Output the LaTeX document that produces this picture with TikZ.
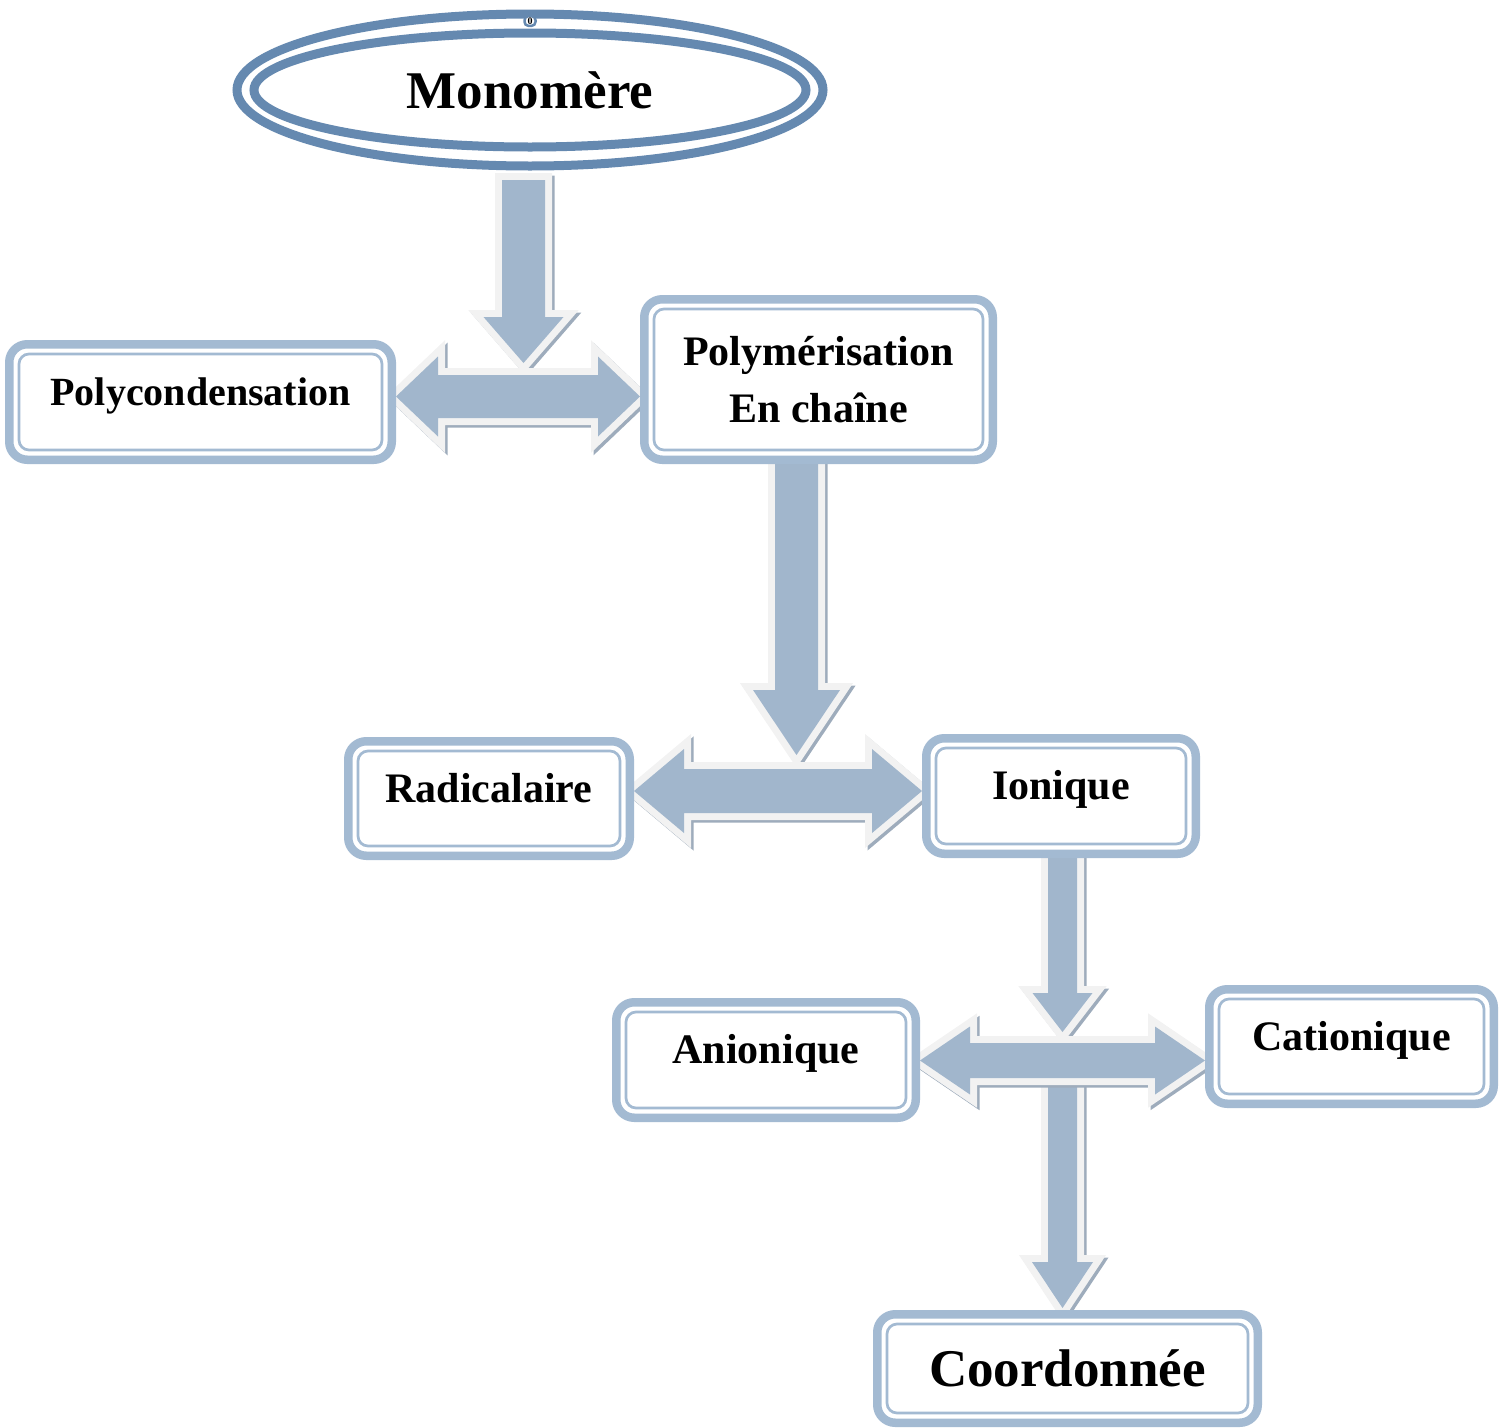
\documentclass[tikz,border=0pt]{standalone}
\usepackage{fontspec}
\setmainfont{Liberation Serif}
\usetikzlibrary{calc,shapes.geometric,backgrounds}
\definecolor{framesteel}{RGB}{101,137,176}
\definecolor{framelight}{RGB}{163,186,210}
\definecolor{flowfill}{RGB}{161,182,204}
\definecolor{flowrim}{RGB}{242,242,242}
\definecolor{flowshade}{RGB}{158,172,188}
% block arrow down: #1 top, #2 tip, #3 half shaft, #4 half head, #5 head length
\newcommand{\blockdown}[5]{%
  \path[flowarrow] let \p1=(#1), \p2=(#2) in
    (\x1-#3,\y1) -- (\x1+#3,\y1) -- (\x1+#3,\y2+#5) -- (\x1+#4,\y2+#5)
    -- (\x2,\y2) -- (\x1-#4,\y2+#5) -- (\x1-#3,\y2+#5) -- cycle;}
% block arrow both ways: #1 left tip, #2 right tip
\newcommand{\blocktwoway}[5]{%
  \path[flowarrow] let \p1=(#1), \p2=(#2) in
    (\x1,\y1) -- (\x1+#5,\y1+#4) -- (\x1+#5,\y1+#3) -- (\x2-#5,\y1+#3)
    -- (\x2-#5,\y1+#4) -- (\x2,\y1) -- (\x2-#5,\y1-#4) -- (\x2-#5,\y1-#3)
    -- (\x1+#5,\y1-#3) -- (\x1+#5,\y1-#4) -- cycle;}
\begin{document}
\begin{tikzpicture}[x=1pt,y=-1pt,
  stage/.style={draw=framelight,line width=8.5pt,fill=white,rounded corners=18pt,inner sep=0pt,align=center,font=\fontsize{42}{57}\selectfont\bfseries},
  oneline/.style={text height=29.4pt,text depth=21.8pt},
  innerframe/.style={draw=framelight,line width=2.7pt,rounded corners=10pt},
  flowarrow/.style={fill=flowfill,line join=miter,
    preaction={draw=flowshade,fill=flowshade,line width=14pt,transform canvas={shift={(2.5pt,-2.5pt)}}},
    preaction={draw=flowrim,line width=14pt}}]
\useasboundingbox (0,0) rectangle (1507,1427);
% monomer
\node[ellipse,draw=framesteel,line width=9pt,minimum width=586pt,minimum height=152pt,inner sep=0pt,font=\fontsize{53}{60}\selectfont\bfseries] (mono) at (530,90) {Monomère};
\draw[framesteel,line width=9pt] (mono.center) ellipse [x radius=276pt,y radius=57pt];
\node[draw=framesteel,line width=2.5pt,fill=white,rounded corners=4pt,inner xsep=3pt,inner ysep=1.5pt,font=\fontsize{10}{10}\selectfont\bfseries] (tag) at (530,21) {0};
% stages
\node[stage,oneline,minimum width=382.5pt,minimum height=115.5pt,font=\fontsize{40}{57}\selectfont\bfseries] (poly) at (200.5,402) {Polycondensation};
\node[stage,minimum width=348.5pt,minimum height=160.5pt] (chain) at (818.5,379.5) {Polymérisation\\En chaîne};
\node[stage,oneline,minimum width=281.5pt,minimum height=114.5pt] (radical) at (489,798.5) {Radicalaire};
\node[stage,oneline,minimum width=269.5pt,minimum height=115.5pt] (ionic) at (1061,796) {Ionique};
\node[stage,oneline,minimum width=299.5pt,minimum height=115.5pt] (anionic) at (766,1060) {Anionique};
\node[stage,oneline,minimum width=284.5pt,minimum height=114.5pt] (cationic) at (1351.5,1046.5) {Cationique};
\node[stage,minimum width=380.5pt,minimum height=108.5pt,font=\fontsize{53}{60}\selectfont\bfseries] (coord) at (1067.5,1368.5) {Coordonnée};
\foreach \n in {poly,chain,radical,ionic,anionic,cationic,coord}
  \draw[innerframe] ([shift={(14pt,14pt)}]\n.south west) rectangle ([shift={(-14pt,-14pt)}]\n.north east);
% block arrows
\coordinate (h1) at (518.5,396.5);
\coordinate (h2) at (778.5,791);
\coordinate (h3) at (1062.5,1060.5);
\begin{scope}[on background layer]
\blockdown{523.5,180}{523.5,363}{21.5pt}{40pt}{46pt}
\blocktwoway{poly.east |- h1}{chain.west |- h1}{21.5pt}{40pt}{42pt}
\blockdown{796.5,455}{796.5,755}{21.5pt}{43.5pt}{65pt}
\blocktwoway{radical.east |- h2}{ionic.west |- h2}{22pt}{42pt}{50pt}
\blockdown{1062.5,850}{1062.5,1032}{14.5pt}{30pt}{39pt}
\blockdown{1062.5,1070}{1062.5,1308}{14.5pt}{30.5pt}{46pt}
\blocktwoway{anionic.east |- h3}{cationic.west |- h3}{17.5pt}{34pt}{50pt}
\end{scope}
\end{tikzpicture}
\end{document}
